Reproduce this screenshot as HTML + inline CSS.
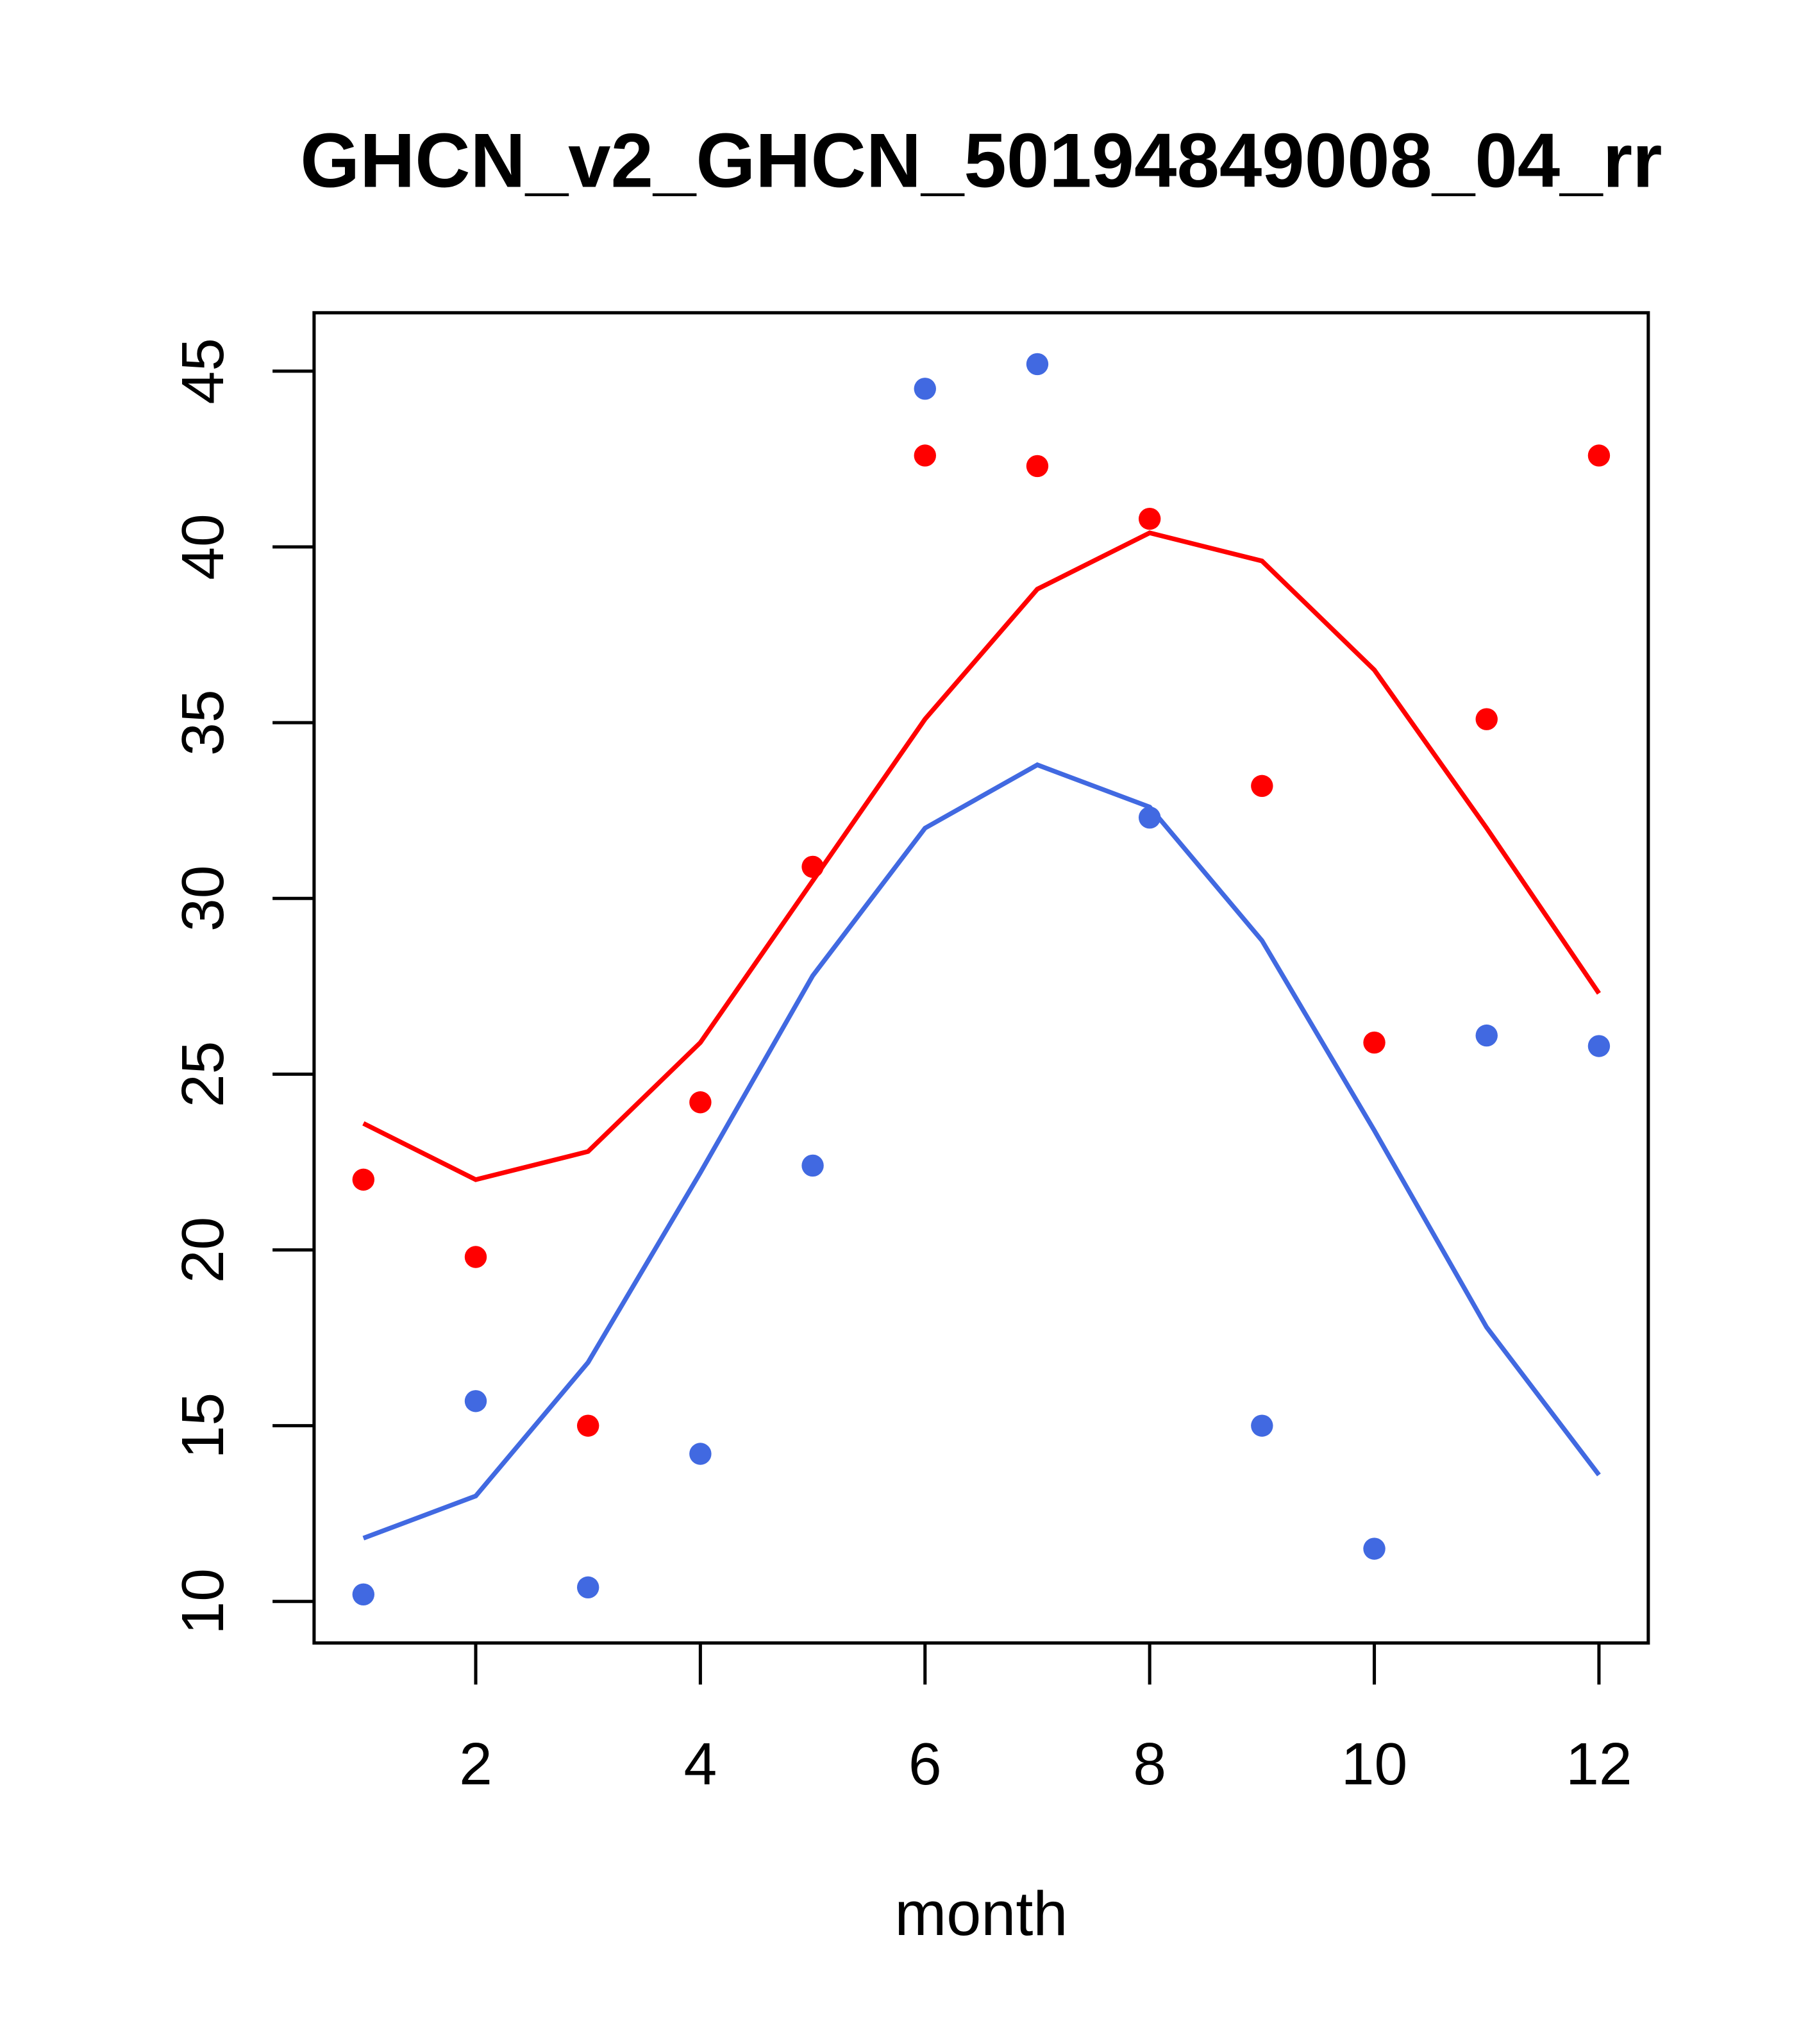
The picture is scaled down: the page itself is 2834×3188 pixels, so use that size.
<!DOCTYPE html>
<html><head><meta charset="utf-8"><style>html,body{margin:0;padding:0;background:#fff}svg{display:block}</style></head>
<body>
<svg id="chart" width="2834" height="3188" viewBox="0 0 1400 1575" preserveAspectRatio="none" xmlns="http://www.w3.org/2000/svg" font-family="'Liberation Sans', sans-serif">
<rect width="1400" height="1575" fill="#fff"/>
<text x="756" y="144" text-anchor="middle" font-size="59" font-weight="bold">GHCN_v2_GHCN_50194849008_04_rr</text>
<rect x="242" y="241" width="1028" height="1025" fill="none" stroke="#000" stroke-width="2.5"/>
<text x="756" y="1491" text-anchor="middle" font-size="48">month</text>
<g id="axes"></g>
<g id="marks"></g>
</svg>
<script>
const months=[1,2,3,4,5,6,7,8,9,10,11,12];
const redPoints=[22.0,19.8,15.0,24.2,30.9,42.6,42.3,40.8,33.2,25.9,35.1,42.6];
const bluePoints=[10.2,15.7,10.4,14.2,22.4,44.5,45.2,32.3,15.0,11.5,26.1,25.8];
const redLine=[23.6,22.0,22.8,25.9,30.5,35.1,38.8,40.4,39.6,36.5,32.0,27.3];
const blueLine=[11.8,13.0,16.8,22.2,27.8,32.0,33.8,32.6,28.8,23.4,17.8,13.6];
const xTicks=[2,4,6,8,10,12];
const yTicks=[10,15,20,25,30,35,40,45];
const NS="http://www.w3.org/2000/svg";
function sx(v){return 280+(v-1)*(1232-280)/11;}
function sy(v){return 1234-(v-10)*(1234-286)/35;}
function mk(tag,attrs,parent){const e=document.createElementNS(NS,tag);for(const k in attrs)e.setAttribute(k,attrs[k]);parent.appendChild(e);return e;}
const axes=document.getElementById('axes'),marks=document.getElementById('marks');
xTicks.forEach(t=>{
  const l=mk('line',{x1:sx(t),x2:sx(t),y1:1266,y2:1298,stroke:'#000','stroke-width':2.5},axes);
  
  
  const tx=mk('text',{x:sx(t),y:1375,'text-anchor':'middle','font-size':46},axes);
  tx.textContent=t;
  
  
});
yTicks.forEach(t=>{
  const l=mk('line',{x1:210,x2:242,y1:sy(t),y2:sy(t),stroke:'#000','stroke-width':2.5},axes);
  
  
  const tx=mk('text',{x:0,y:0,'text-anchor':'middle','font-size':46,transform:`translate(172,${sy(t)}) rotate(-90)`},axes);
  tx.textContent=t;
  
  
});
function line(vals,color,name){
  const p=mk('polyline',{points:vals.map((v,i)=>sx(months[i])+','+sy(v)).join(' '),fill:'none',stroke:color,'stroke-width':3.6},marks);
  
  
}
function pts(vals,color,name){
  vals.forEach((v,i)=>{
    const c=mk('circle',{cx:sx(months[i]),cy:sy(v),r:8.5,fill:color},marks);
    
    
  });
}
line(redLine,'#ff0000','red-line');
line(blueLine,'#4169e1','blue-line');
pts(redPoints,'#ff0000','red-point');
pts(bluePoints,'#4169e1','blue-point');
</script>
</body></html>
